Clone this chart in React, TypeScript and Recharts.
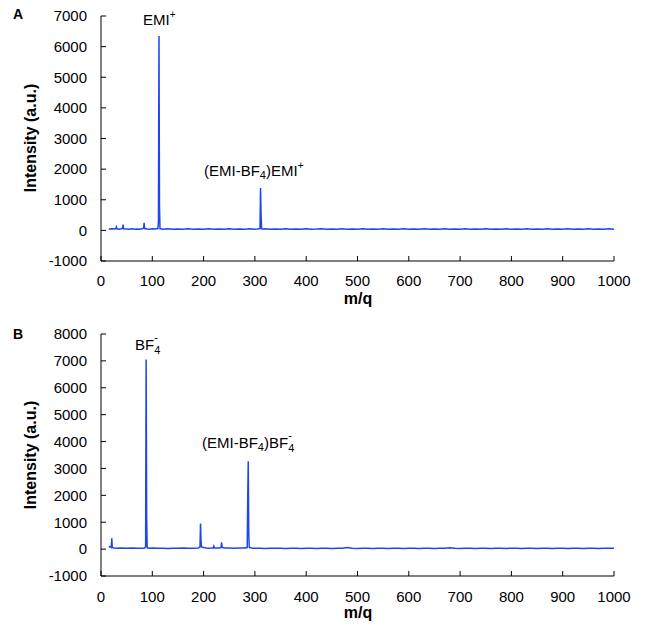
import { Line, LineChart, XAxis, YAxis } from 'recharts';

// [m/q, intensity] (panel A)
const spectrumA: [number, number][] = [
  [15, 40], [20, 50], [25, 45], [29, 60], [30, 110], [31, 50], [35, 40], [40, 55], [42, 70], [43, 190], [44, 50],
  [50, 45], [55, 35], [60, 50], [65, 40], [70, 45], [75, 35], [80, 50], [83, 70], [84, 250], [85, 60],
  [90, 45], [95, 40], [100, 50], [105, 45], [111, 60], [112, 300], [113, 6350], [114, 800], [115, 60],
  [120, 40], [130, 50], [140, 35], [150, 45], [160, 40], [170, 50], [180, 35], [190, 45], [200, 40],
  [210, 55], [220, 40], [230, 45], [240, 35], [250, 50], [260, 40], [270, 45], [280, 35], [290, 50],
  [300, 40], [305, 45], [310, 60], [311, 1380], [312, 500], [313, 60], [315, 40], [320, 50], [330, 40],
  [340, 45], [350, 35], [360, 50], [370, 40], [380, 45], [390, 35], [400, 50], [410, 40], [420, 45],
  [430, 55], [440, 35], [450, 45], [460, 40], [470, 50], [480, 35], [490, 45], [500, 40], [510, 50],
  [520, 35], [530, 45], [540, 40], [550, 55], [560, 35], [570, 45], [580, 40], [590, 50], [600, 35],
  [610, 45], [620, 40], [630, 50], [640, 35], [650, 45], [660, 40], [670, 50], [680, 35], [690, 45],
  [700, 40], [710, 50], [720, 35], [730, 45], [740, 40], [750, 55], [760, 35], [770, 45], [780, 40],
  [790, 50], [800, 35], [810, 45], [820, 40], [830, 50], [840, 35], [850, 45], [860, 40], [870, 50],
  [880, 35], [890, 45], [900, 40], [910, 50], [920, 35], [930, 45], [940, 40], [950, 50], [960, 35],
  [970, 45], [980, 40], [990, 50], [1000, 40]
];

// [m/q, intensity] (panel B)
const spectrumB: [number, number][] = [
  [15, 100], [18, 80], [20, 60], [21, 400], [22, 60], [25, 40], [30, 35], [40, 45], [50, 30], [60, 40],
  [70, 35], [80, 30], [85, 40], [87, 100], [88, 7050], [89, 1200], [90, 50], [95, 35], [100, 40],
  [110, 30], [120, 35], [130, 25], [140, 35], [150, 30], [160, 40], [170, 30], [180, 35], [190, 40],
  [193, 80], [194, 950], [195, 300], [196, 80], [200, 60], [205, 40], [210, 35], [215, 40], [219, 50],
  [220, 110], [221, 50], [225, 40], [230, 45], [234, 60], [235, 250], [236, 70], [240, 45], [250, 40],
  [260, 35], [270, 40], [280, 45], [285, 60], [286, 1800], [287, 3270], [288, 600], [289, 60], [295, 35],
  [300, 30], [310, 35], [320, 25], [330, 35], [340, 30], [350, 35], [360, 25], [370, 30], [380, 35],
  [390, 25], [400, 30], [410, 35], [420, 25], [430, 30], [440, 35], [450, 25], [460, 30], [470, 35],
  [480, 60], [490, 30], [500, 25], [510, 35], [520, 30], [530, 25], [540, 35], [550, 30], [560, 25],
  [570, 35], [580, 30], [590, 25], [600, 35], [610, 30], [620, 25], [630, 35], [640, 30], [650, 25],
  [660, 35], [670, 30], [680, 55], [690, 30], [700, 25], [710, 35], [720, 30], [730, 25], [740, 35],
  [750, 30], [760, 25], [770, 35], [780, 30], [790, 25], [800, 35], [810, 30], [820, 25], [830, 35],
  [840, 30], [850, 25], [860, 35], [870, 30], [880, 25], [890, 35], [900, 30], [910, 25], [920, 35],
  [930, 30], [940, 25], [950, 35], [960, 30], [970, 25], [980, 35], [990, 30], [1000, 30]
];

const mzTicks = [0, 100, 200, 300, 400, 500, 600, 700, 800, 900, 1000];
const yTicksA = [-1000, 0, 1000, 2000, 3000, 4000, 5000, 6000, 7000];
const yTicksB = [-1000, 0, 1000, 2000, 3000, 4000, 5000, 6000, 7000, 8000];

const LINE_COLOR = '#1f45f0';
const FONT = '"Liberation Sans", Arial, sans-serif';

const toRows = (pts: [number, number][]) => pts.map(([mz, v]) => ({ mz, v }));

interface PanelProps {
  top: number;
  height: number;
  marginTop: number;
  xAxisHeight: number;
  xTickMargin: number;
  data: [number, number][];
  yTicks: number[];
  letter: string;
  letterY: number;
  yLabelY: number;
  mqY: number;
  children?: React.ReactNode;
}

function SpectrumPanel(p: PanelProps) {
  return (
    <div style={{ position: 'absolute', left: 0, top: p.top, width: 646, height: p.height }}>
      <LineChart
        width={646}
        height={p.height}
        data={toRows(p.data)}
        margin={{ top: p.marginTop, right: 32, left: 0, bottom: 0 }}
      >
        <XAxis
          dataKey="mz"
          type="number"
          domain={[0, 1000]}
          ticks={mzTicks}
          height={p.xAxisHeight}
          tickSize={-5}
          tickMargin={p.xTickMargin}
          axisLine={{ stroke: '#000' }}
          tickLine={{ stroke: '#000' }}
          tick={{ fill: '#000', fontSize: 15 }}
          interval={0}
        />
        <YAxis
          type="number"
          width={101}
          domain={[p.yTicks[0], p.yTicks[p.yTicks.length - 1]]}
          ticks={p.yTicks}
          tickSize={-5}
          tickMargin={19}
          axisLine={{ stroke: '#000' }}
          tickLine={{ stroke: '#000' }}
          tick={{ fill: '#000', fontSize: 15 }}
          interval={0}
        />
        <Line
          type="linear"
          dataKey="v"
          stroke={LINE_COLOR}
          strokeWidth={1.5}
          dot={false}
          isAnimationActive={false}
        />
      </LineChart>
      <svg
        width={646}
        height={p.height}
        style={{ position: 'absolute', left: 0, top: 0, pointerEvents: 'none', fontFamily: FONT }}
      >
        <text x={13} y={p.letterY} fontSize={14} fontWeight="bold">{p.letter}</text>
        <text
          x={30}
          y={p.yLabelY}
          fontSize={16}
          fontWeight="bold"
          textAnchor="middle"
          dominantBaseline="central"
          transform={`rotate(-90 30 ${p.yLabelY})`}
        >
          Intensity (a.u.)
        </text>
        <text x={358} y={p.mqY} fontSize={16} fontWeight="bold" textAnchor="middle">m/q</text>
        {p.children}
      </svg>
    </div>
  );
}

export default function App() {
  return (
    <div style={{ position: 'absolute', left: 0, top: 0, width: 646, height: 626, background: '#fff', fontFamily: FONT }}>
      <SpectrumPanel
        top={0}
        height={320}
        marginTop={16}
        xAxisHeight={59}
        xTickMargin={19}
        data={spectrumA}
        yTicks={yTicksA}
        letter="A"
        letterY={19}
        yLabelY={138}
        mqY={304}
      >
        <text x={143} y={25} fontSize={15}>
          EMI<tspan fontSize={10} dy={-7}>+</tspan>
        </text>
        <text x={204} y={176} fontSize={15}>
          (EMI-BF<tspan fontSize={11} dy={3}>4</tspan>
          <tspan dy={-3}>)EMI</tspan>
          <tspan fontSize={10} dy={-7}>+</tspan>
        </text>
      </SpectrumPanel>
      <SpectrumPanel
        top={320}
        height={306}
        marginTop={14}
        xAxisHeight={50}
        xTickMargin={20}
        data={spectrumB}
        yTicks={yTicksB}
        letter="B"
        letterY={19}
        yLabelY={135}
        mqY={298}
      >
        <text x={135} y={30} fontSize={15}>
          BF<tspan fontSize={11} dy={4}>4</tspan>
          <tspan fontSize={11} dx={-6} dy={-13}>-</tspan>
        </text>
        <text x={202} y={128} fontSize={15}>
          (EMI-BF<tspan fontSize={11} dy={3}>4</tspan>
          <tspan dy={-3}>)BF</tspan>
          <tspan fontSize={11} dy={4}>4</tspan>
          <tspan fontSize={11} dx={-6} dy={-13}>-</tspan>
        </text>
      </SpectrumPanel>
    </div>
  );
}
